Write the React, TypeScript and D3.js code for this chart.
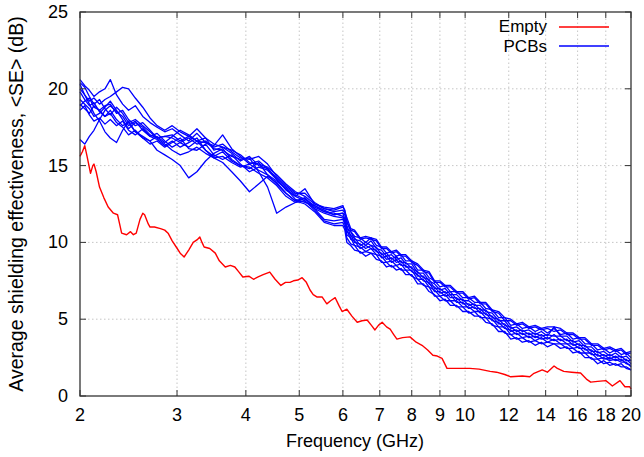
import { FC } from 'react'
import * as d3 from 'd3'

// Empty enclosure: frequency (GHz) / average SE (dB)
const emptyFreq = [
  2.0, 2.02, 2.04, 2.06, 2.09, 2.11, 2.12, 2.14, 2.17, 2.21, 2.25, 2.3, 2.34, 2.36, 2.38, 2.43,
  2.47, 2.5, 2.53, 2.57, 2.6, 2.62, 2.66, 2.68, 2.73, 2.8, 2.85, 2.89, 2.94, 2.99, 3.04, 3.09,
  3.15, 3.21, 3.27, 3.3, 3.33, 3.36, 3.44, 3.52, 3.58, 3.67, 3.75, 3.82, 3.88, 3.95, 4.05, 4.13,
  4.21, 4.3, 4.42, 4.52, 4.63, 4.72, 4.81, 4.88, 4.97, 5.06, 5.15, 5.23, 5.3, 5.38, 5.5, 5.61,
  5.7, 5.81, 5.9, 5.98, 6.1, 6.23, 6.37, 6.5, 6.64, 6.76, 6.86, 6.96, 7.07, 7.2, 7.31, 7.42,
  7.52, 7.7, 7.94, 8.15, 8.35, 8.55, 8.74, 8.9, 9.08, 9.27, 9.67, 10.2, 10.6, 11.1, 11.4, 11.8,
  12.1, 12.7, 13.1, 13.3, 13.6, 13.8, 14.1, 14.5, 14.7, 15.1, 15.6, 16.2, 16.6, 16.9, 17.4, 18.0,
  18.3, 18.5, 19.1, 19.5, 19.9, 20.0,
]
const emptySE = [
  15.6, 15.9, 16.3, 15.6, 14.5, 15.0, 15.1, 14.6, 13.6, 12.9, 12.3, 11.9, 11.8, 11.2, 10.6, 10.5,
  10.7, 10.5, 10.6, 11.5, 11.9, 11.8, 11.2, 11.0, 11.0, 10.9, 10.8, 10.6, 10.1, 9.7, 9.3, 9.05,
  9.5, 10.0, 10.2, 10.35, 10.0, 9.7, 9.6, 9.3, 8.8, 8.4, 8.5, 8.4, 8.1, 7.75, 7.8, 7.6,
  7.75, 7.9, 8.07, 7.6, 7.2, 7.4, 7.4, 7.5, 7.55, 7.7, 7.4, 6.9, 6.6, 6.45, 6.45, 6.0,
  6.2, 6.4, 5.9, 5.5, 5.65, 5.2, 4.8, 4.9, 4.95, 4.6, 4.3, 4.6, 4.8, 4.5, 4.35, 4.0,
  3.7, 3.8, 3.85, 3.5, 3.3, 3.0, 2.65, 2.6, 2.45, 1.8, 1.8, 1.8, 1.75, 1.6, 1.55, 1.4,
  1.25, 1.3, 1.25, 1.45, 1.6, 1.7, 1.55, 1.95, 1.8, 1.6, 1.55, 1.5, 1.1, 0.9, 0.95, 1.0,
  0.8, 0.65, 1.0, 0.6, 0.6, 0.45,
]

// PCB-loaded enclosure: shared frequency grid (GHz)
const pcbFreq = [
  2.0, 2.04, 2.08, 2.12, 2.17, 2.22, 2.27, 2.33, 2.39, 2.45, 2.52, 2.6, 2.68, 2.76, 2.85,
  2.94, 3.04, 3.15, 3.26, 3.38, 3.5, 3.63, 3.77, 3.91, 4.06, 4.22, 4.38, 4.55, 4.73, 4.92,
  5.12, 5.33, 5.55, 5.78,
  6.0, 6.05, 6.1, 6.2, 6.3, 6.45, 6.6, 6.75, 6.9, 7.05, 7.2, 7.35, 7.5, 7.65, 7.8, 8.0,
  8.2, 8.4, 8.6, 8.8, 9.0, 9.2, 9.4, 9.65, 9.9, 10.15, 10.4, 10.65, 10.9, 11.2, 11.5, 11.8,
  12.1, 12.4, 12.7, 13.05, 13.4, 13.75, 14.1, 14.5, 14.9, 15.3, 15.7, 16.1, 16.5, 16.95, 17.4,
  17.85, 18.3, 18.75, 19.2, 19.6, 20.0,
]

const pcbA = [
  20.6, 20.2, 19.9, 19.5, 19.8, 20.0, 20.6, 19.6, 19.0, 18.6, 18.9, 18.2, 17.8, 17.5, 17.2,
  17.4, 17.0, 16.6, 17.1, 16.5, 16.2, 16.4, 15.9, 15.5, 15.4, 15.6, 15.1, 14.3, 13.7, 13.2,
  13.2, 12.6, 12.2, 12.1,
  12.3, 12.1, 11.3, 10.8, 10.7, 10.2, 10.3, 10.2, 10.1, 9.6, 9.6, 9.3, 9.4, 9.1, 9.1, 8.7,
  8.5, 8.1, 8.0, 7.4, 7.4, 7.1, 7.1, 6.7, 6.7, 6.3, 6.4, 6.0, 6.0, 5.5, 5.4, 4.9,
  4.9, 4.6, 4.7, 4.4, 4.5, 4.3, 4.4, 4.2, 4.3, 4.0, 4.0, 3.7, 3.7, 3.3, 3.3,
  3.0, 3.1, 2.9, 3.0, 2.7, 2.8,
]
const pcbB = [
  16.7, 16.4, 16.9, 17.3, 18.0, 18.6, 18.9, 18.5, 18.2, 17.6, 17.9, 17.3, 16.9, 16.7, 16.3,
  16.6, 16.2, 16.5, 16.8, 16.0, 15.6, 15.9, 15.3, 15.0, 14.8, 15.2, 14.4, 13.8, 13.2, 12.7,
  12.9, 12.2, 11.5, 11.4,
  11.5, 11.2, 10.5, 10.3, 9.8, 9.7, 9.4, 9.6, 9.2, 9.1, 8.7, 8.8, 8.5, 8.6, 8.2, 8.2,
  7.6, 7.6, 7.1, 6.9, 6.5, 6.6, 6.2, 6.2, 5.8, 5.8, 5.5, 5.5, 5.1, 5.0, 4.5, 4.5,
  4.0, 4.1, 3.8, 3.9, 3.6, 3.8, 3.5, 3.7, 3.4, 3.4, 3.1, 3.2, 2.8, 2.8, 2.4,
  2.5, 2.3, 2.4, 2.2, 2.2, 1.9,
]
const pcbC = [
  20.3, 19.6, 19.0, 18.4, 17.9, 17.2, 16.8, 16.5, 17.3, 17.9, 17.2, 16.8, 16.4, 16.6, 16.2,
  16.5, 16.8, 16.1, 16.0, 16.4, 15.7, 15.4, 15.7, 15.1, 14.6, 14.9, 14.7, 14.1, 13.5, 12.8,
  12.6, 12.4, 12.1, 11.8,
  11.9, 11.5, 11.1, 10.4, 10.3, 9.8, 10.0, 9.8, 9.7, 9.2, 9.3, 8.9, 9.1, 8.7, 8.7, 8.3,
  8.1, 7.7, 7.6, 7.0, 7.0, 6.7, 6.8, 6.3, 6.3, 5.9, 6.0, 5.6, 5.6, 5.1, 5.0, 4.6,
  4.5, 4.2, 4.3, 4.0, 4.1, 3.9, 4.0, 3.9, 3.9, 3.6, 3.6, 3.3, 3.3, 2.9, 2.9,
  2.6, 2.7, 2.5, 2.6, 2.3, 2.3,
]
const pcbD = [
  19.8, 19.3, 18.9, 19.1, 18.5, 18.2, 18.6, 18.0, 17.6, 17.8, 17.2, 16.9, 16.6, 16.0, 15.7,
  15.4, 15.0, 14.2, 14.6, 15.3, 15.8, 16.1, 15.4, 15.0, 14.9, 14.5, 14.2, 13.7, 13.0, 12.6,
  12.7, 12.1, 11.4, 11.2,
  11.3, 11.0, 10.3, 9.9, 9.8, 9.3, 9.4, 9.3, 9.2, 8.7, 8.7, 8.4, 8.5, 8.2, 8.2, 7.8,
  7.6, 7.2, 7.1, 6.5, 6.5, 6.2, 6.2, 5.8, 5.8, 5.4, 5.5, 5.1, 5.1, 4.6, 4.5, 4.1,
  4.0, 3.7, 3.8, 3.5, 3.6, 3.4, 3.5, 3.4, 3.4, 3.1, 3.1, 2.8, 2.8, 2.4, 2.4,
  2.1, 2.2, 2.0, 2.1, 1.8, 1.7,
]
const pcbE = [
  19.3, 19.0, 18.7, 18.2, 18.4, 18.8, 19.2, 18.6, 18.0, 17.4, 17.8, 17.5, 17.0, 16.8, 16.9,
  16.8, 16.5, 16.8, 16.4, 16.6, 16.1, 16.0, 15.6, 15.4, 15.5, 14.6, 13.6, 11.9, 12.3, 12.6,
  12.9, 12.3, 12.0, 11.8,
  11.9, 11.8, 10.9, 10.7, 10.2, 10.1, 9.8, 10.1, 9.6, 9.5, 9.1, 9.2, 8.9, 9.0, 8.6, 8.6,
  8.0, 8.0, 7.5, 7.3, 6.9, 7.0, 6.6, 6.6, 6.2, 6.2, 5.9, 5.9, 5.5, 5.4, 4.9, 4.9,
  4.4, 4.5, 4.2, 4.3, 4.0, 4.2, 3.9, 4.5, 3.9, 3.9, 3.5, 3.6, 3.2, 3.2, 2.8,
  2.9, 2.6, 2.8, 2.5, 2.6, 2.3,
]
const pcbF = [
  19.0, 18.7, 18.4, 18.9, 18.6, 18.2, 18.4, 17.8, 17.5, 17.0, 17.3, 16.8, 16.6, 16.9, 16.5,
  16.9, 17.3, 17.0, 16.6, 16.5, 16.3, 17.0, 16.1, 15.6, 15.1, 15.3, 14.8, 14.1, 13.4, 13.0,
  13.5, 12.5, 12.3, 12.2,
  12.4, 12.0, 11.6, 10.9, 10.8, 10.3, 10.4, 10.3, 10.2, 9.7, 9.7, 9.4, 9.5, 9.2, 9.2, 8.8,
  8.6, 8.2, 8.1, 7.5, 7.5, 7.2, 7.2, 6.8, 6.8, 6.4, 6.5, 6.1, 6.1, 5.6, 5.5, 5.1,
  5.0, 4.7, 4.8, 4.5, 4.6, 4.4, 4.5, 4.5, 4.4, 4.1, 4.1, 3.8, 3.8, 3.4, 3.4,
  3.1, 3.2, 3.0, 3.1, 2.8, 2.9,
]
const pcbG = [
  18.6, 18.9, 18.3, 17.9, 18.1, 17.7, 18.0, 17.6, 17.9, 17.3, 17.0, 17.4, 16.9, 17.1, 16.6,
  16.2, 16.5, 16.2, 16.6, 16.0, 15.5, 15.2, 14.6, 14.0, 13.3, 13.8, 14.3, 13.9, 13.2, 12.7,
  12.5, 12.0, 11.3, 11.1,
  11.1, 10.8, 10.0, 9.8, 9.5, 9.4, 9.1, 9.3, 8.9, 8.8, 8.4, 8.5, 8.2, 8.3, 7.9, 7.9,
  7.3, 7.3, 6.8, 6.6, 6.2, 6.3, 5.9, 5.9, 5.5, 5.5, 5.2, 5.2, 4.8, 4.7, 4.2, 4.2,
  3.7, 3.8, 3.5, 3.6, 3.3, 3.5, 3.2, 3.4, 3.1, 3.2, 2.8, 2.9, 2.5, 2.5, 2.1,
  2.3, 2.0, 2.1, 1.9, 1.9, 1.7,
]
const pcbH = [
  20.0, 19.6, 19.2, 19.4, 19.0, 19.3, 19.5, 19.8, 20.1, 20.0, 19.4, 18.8, 18.1, 17.6, 17.3,
  17.6, 17.2, 16.9, 16.6, 16.8, 16.4, 16.2, 16.0, 15.7, 15.2, 15.1, 14.9, 14.4, 13.8, 13.3,
  13.0, 12.5, 12.2, 12.0,
  12.1, 11.9, 11.4, 10.7, 10.4, 10.3, 10.0, 10.3, 9.8, 9.7, 9.3, 9.4, 9.1, 9.2, 8.8, 8.8,
  8.2, 8.2, 7.7, 7.5, 7.1, 7.2, 6.8, 6.8, 6.4, 6.4, 6.1, 6.1, 5.7, 5.6, 5.1, 5.1,
  4.6, 4.7, 4.4, 4.5, 4.2, 4.4, 4.1, 4.4, 4.0, 4.1, 3.7, 3.8, 3.4, 3.4, 3.0,
  3.1, 2.8, 3.0, 2.7, 2.8, 2.5,
]
const pcbI = [
  18.9, 19.2, 19.4, 18.8, 18.6, 18.9, 19.0, 18.4, 18.6, 18.0, 17.6, 17.8, 17.3, 16.8, 16.9,
  17.0, 16.6, 16.9, 17.4, 16.8, 16.0, 16.2, 15.8, 15.3, 15.6, 15.0, 14.8, 14.2, 13.6, 13.1,
  12.8, 12.4, 12.0, 11.9,
  11.7, 11.4, 10.7, 10.5, 10.0, 9.9, 9.6, 9.8, 9.4, 9.3, 8.9, 9.0, 8.7, 8.8, 8.4, 8.4,
  7.8, 7.8, 7.3, 7.1, 6.7, 6.8, 6.4, 6.4, 6.0, 6.0, 5.7, 5.7, 5.3, 5.2, 4.7, 4.7,
  4.2, 4.3, 4.0, 4.1, 3.8, 4.0, 3.7, 4.0, 3.6, 3.7, 3.3, 3.4, 3.0, 3.0, 2.6,
  2.7, 2.4, 2.6, 2.3, 2.4, 2.1,
]
const pcbJ = [
  20.4, 20.1, 19.5, 19.0, 19.3, 18.7, 18.3, 18.8, 18.4, 17.8, 18.0, 17.6, 17.2, 16.8, 16.4,
  16.0, 15.7, 15.9, 16.2, 15.8, 15.5, 15.6, 15.2, 14.9, 15.1, 14.7, 14.4, 14.0, 13.5, 13.0,
  12.7, 12.2, 11.9, 11.7,
  11.6, 11.3, 10.8, 10.2, 10.1, 9.6, 9.8, 9.6, 9.5, 9.0, 9.1, 8.7, 8.9, 8.5, 8.5, 8.1,
  7.9, 7.5, 7.4, 6.8, 6.8, 6.5, 6.6, 6.1, 6.1, 5.7, 5.8, 5.4, 5.4, 4.9, 4.8, 4.4,
  4.3, 4.0, 4.1, 3.8, 3.9, 3.7, 3.8, 3.6, 3.7, 3.4, 3.4, 3.1, 3.1, 2.7, 2.7,
  2.4, 2.5, 2.3, 2.4, 2.1, 2.0,
]
const pcbSeries = [pcbA, pcbB, pcbC, pcbD, pcbE, pcbF, pcbG, pcbH, pcbI, pcbJ]

const xTicks = [2, 3, 4, 5, 6, 7, 8, 9, 10, 12, 14, 16, 18, 20]
const yTicks = [0, 5, 10, 15, 20, 25]

const W = 644
const H = 457
const margin = { top: 12, right: 13, bottom: 61, left: 80 }
const FONT = '"Liberation Sans", Arial, Helvetica, sans-serif'

const App: FC = () => {
  const x = d3.scaleLog().domain([2, 20]).range([margin.left, W - margin.right])
  const y = d3.scaleLinear().domain([0, 25]).range([H - margin.bottom, margin.top])
  const x0 = margin.left
  const x1 = W - margin.right
  const y0 = H - margin.bottom
  const y1 = margin.top

  const line = d3
    .line<[number, number]>()
    .x(d => x(d[0]))
    .y(d => y(d[1]))

  const emptyPath = line(emptyFreq.map((f, i) => [f, emptySE[i]])) || ''
  const pcbPaths = pcbSeries.map(s => line(pcbFreq.map((f, i) => [f, s[i]])) || '')

  return (
    <svg
      width={W}
      height={H}
      style={{ position: 'absolute', left: 0, top: 0, background: '#fff' }}
      fontFamily={FONT}
    >
      {/* grid */}
      <g stroke="#b8b8b8" strokeWidth={0.8} strokeDasharray="1.5,2.5">
        {xTicks.slice(1, -1).map(t => (
          <line key={'gx' + t} x1={x(t)} x2={x(t)} y1={y0} y2={y1} />
        ))}
        {yTicks.slice(1, -1).map(t => (
          <line key={'gy' + t} x1={x0} x2={x1} y1={y(t)} y2={y(t)} />
        ))}
      </g>

      {/* data */}
      <g fill="none" strokeLinejoin="round">
        {pcbPaths.map((p, i) => (
          <path key={i} d={p} stroke="#0000ff" strokeWidth={1.3} />
        ))}
        <path d={emptyPath} stroke="#ff0000" strokeWidth={1.4} />
      </g>

      {/* ticks */}
      <g stroke="#333" strokeWidth={1}>
        {xTicks.map(t => (
          <g key={'tx' + t}>
            <line x1={x(t)} x2={x(t)} y1={y0} y2={y0 - 6} />
            <line x1={x(t)} x2={x(t)} y1={y1} y2={y1 + 6} />
          </g>
        ))}
        {yTicks.map(t => (
          <g key={'ty' + t}>
            <line x1={x0} x2={x0 + 6} y1={y(t)} y2={y(t)} />
            <line x1={x1} x2={x1 - 6} y1={y(t)} y2={y(t)} />
          </g>
        ))}
      </g>

      {/* frame */}
      <rect x={x0} y={y1} width={x1 - x0} height={y0 - y1} fill="none" stroke="#333" strokeWidth={1.3} />

      {/* tick labels */}
      <g fontSize={18} fill="#000">
        {xTicks.map(t => (
          <text key={'lx' + t} x={x(t)} y={y0 + 25} textAnchor="middle">
            {t}
          </text>
        ))}
        {yTicks.map(t => (
          <text key={'ly' + t} x={x0 - 12} y={y(t) + 6} textAnchor="end">
            {t}
          </text>
        ))}
      </g>

      {/* axis titles */}
      <text x={355} y={447} fontSize={18} textAnchor="middle">
        Frequency (GHz)
      </text>
      <text
        transform={`translate(23,${(y0 + y1) / 2}) rotate(-90)`}
        fontSize={19.5}
        textAnchor="middle"
      >
        {'Average shielding effectiveness, <SE> (dB)'}
      </text>

      {/* legend */}
      <g fontSize={17}>
        <text x={547} y={32} textAnchor="end">Empty</text>
        <line x1={559} x2={609} y1={27} y2={27} stroke="#ff0000" strokeWidth={1.4} />
        <text x={547} y={52} textAnchor="end">PCBs</text>
        <line x1={559} x2={609} y1={46} y2={46} stroke="#0000ff" strokeWidth={1.4} />
      </g>
    </svg>
  )
}

export default App
